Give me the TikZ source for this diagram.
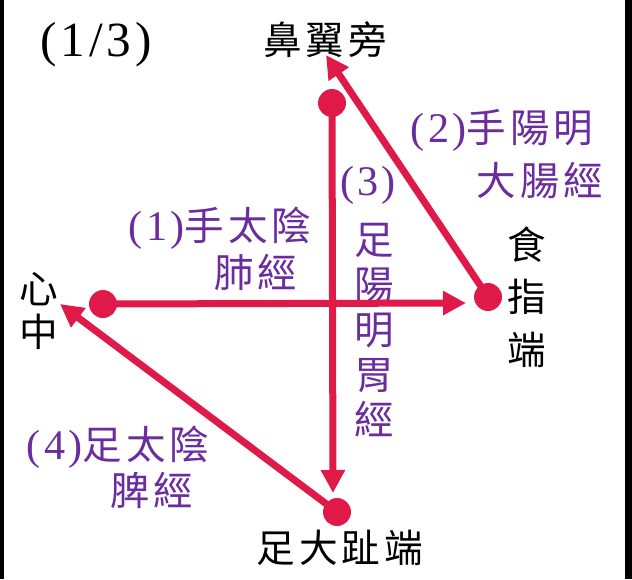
\documentclass[tikz,border=0pt]{standalone}
\usepackage{fontspec}
\setmainfont{Liberation Serif}
\newfontfamily\cjk{Noto Sans CJK TC}[LetterSpace=10]
\newfontfamily\numfont{Liberation Serif}[LetterSpace=8]
\usetikzlibrary{arrows.meta}

\definecolor{meridianred}{HTML}{E01A48}
\definecolor{labelpurple}{HTML}{6B2C9E}

\begin{document}
\begin{tikzpicture}[
  x=0.02cm, y=-0.02cm,
  >={Triangle[length=0.46cm, width=0.46cm]},
  dot/.style={circle, fill=meridianred, inner sep=0pt, minimum size=0.56cm},
  meridian/.style={->, meridianred, line width=0.14cm},
  place/.style={font=\fontsize{22}{30}\selectfont\cjk, text=black,
                inner sep=0pt, align=center},
  channel/.style={font=\fontsize{22.5}{26}\selectfont\cjk, text=labelpurple,
                  inner sep=0pt, align=center},
  num/.style={font=\fontsize{24}{26}\selectfont\numfont},
]
\useasboundingbox (0,0) rectangle (632,579);
\fill[white] (0,0) rectangle (632,579);
\fill[black] (0,0) rectangle (4,579);
\fill[black] (625,0) rectangle (632,579);

%% -- end points ---------------------------------------------------------------
\node[dot] (heartdot) at (103,304) {};
\node[dot] (indexdot) at (488,297) {};
\node[dot] (nosedot)  at (332,103) {};
\node[dot] (toedot)   at (337,512) {};

\coordinate (lutip) at (466,303);
\coordinate (litip) at (326,55);
\coordinate (sttip) at (333,493);
\coordinate (sptip) at (60,304);

%% -- place names ------------------------------------------------------------
\node[num, font=\fontsize{28}{30}\selectfont\numfont] (page) at (96,45) {(1/3)};
\node[place] (nose)  at (325,40)  {鼻翼旁};
\node[place, font=\fontsize{22}{24}\selectfont\cjk] (heart) at (39,311) {心\\中};
\node[place] (index) at (527,297) {食\\指\\端};
\node[place] (toe)   at (340,548) {足大趾端};

%% -- channel names ----------------------------------------------------------
\node[channel] (lunga) at (220,228) {{\fontsize{24}{26}\selectfont\numfont(1)}手太陰};
\node[channel] (lungb) at (256,272) {肺經};
\node[channel] (lia)   at (502,130) {{\fontsize{24}{26}\selectfont\numfont(2)}手陽明};
\node[channel] (lib)   at (540,180) {大腸經};
\node[channel, num] (sta) at (368,185) {(3)};
\node[channel, font=\fontsize{22.5}{25.6}\selectfont\cjk] (stb) at (374,330)
  {足\\陽\\明\\胃\\經};
\node[channel] (spa)   at (118,447) {{\fontsize{24}{26}\selectfont\numfont(4)}足太陰};
\node[channel] (spb)   at (152,490) {脾經};

%% -- meridians --------------------------------------------------------------
\draw[meridian] (heartdot.center) -- (lutip);
\draw[meridian] (indexdot.center) -- (litip);
\draw[meridian] (nosedot.center)  -- (sttip);
\draw[meridian] (toedot.center)   -- (sptip);

\end{tikzpicture}
\end{document}
